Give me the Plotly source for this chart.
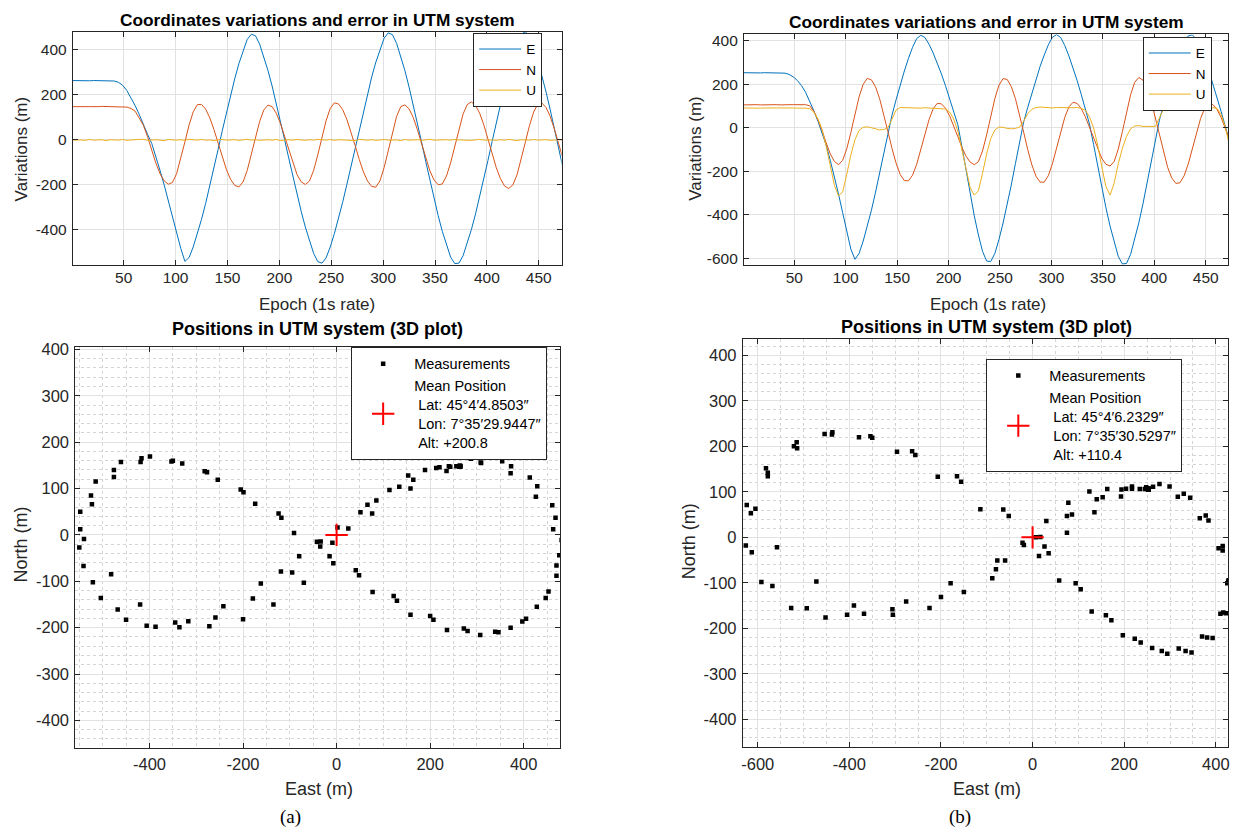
import plotly.graph_objects as go

W, H = 1238, 833

# ---------------- data (4 s sampling) ----------------
epochs = list(range(1, 474, 4))

# panel (a)
e_a = [264, 263, 264, 264, 263, 264, 264, 263, 264, 263,
       262, 256, 243, 220, 189, 153, 113, 66, 25, -15,
       -70, -135, -200, -272, -345, -420, -482, -540,
       -523, -476, -419, -353, -282, -205, -124, -42, 41, 122, 200, 272, 339, 397, 447, 470,
       463, 426, 372, 309, 240, 164, 85, 2, -80, -162, -242, -317, -387, -450, -504, -541,
       -548, -525, -476, -417, -350, -277, -199, -118, -35, 48, 129, 207, 280, 346, 405, 453, 476,
       468, 429, 373, 308, 235, 158, 76, -9, -95, -179, -259, -336, -406, -468, -521, -550,
       -548, -515, -461, -399, -330, -254, -174, -91, -7, 77, 158, 236, 307, 372, 428, 470,
       481, 461, 413, 354, 287, 213, 134, 51, -34, -119]
n_a = [148, 147, 149, 148, 148, 147, 148, 149, 148, 147, 148, 148, 147,
       146, 140, 128, 97, 65, 14, -46, -103, -150, -182, -197,
       -189, -150, -85, -9, 66, 125, 157,
       158, 137, 98, 46, -15, -76, -132, -175, -202,
       -209, -187, -136, -66, 12, 82, 133, 155,
       148, 119, 74, 16, -46, -105, -154, -186, -198,
       -183, -136, -67, 12, 85, 140, 165,
       160, 135, 92, 37, -25, -87, -142, -183, -207,
       -210, -181, -122, -44, 37, 105, 148,
       156, 138, 100, 46, -17, -81, -137, -178, -199,
       -196, -161, -102, -27, 50, 115, 157,
       169, 154, 119, 67, 4, -61, -123, -172, -205, -216,
       -200, -155, -88, -11, 64, 124, 159,
       164, 144, 104, 49, -14, -79]
u_a = [-1, 1, 0, -2, 2, -1, 0, 1, -3, 1,
       0, -1, 2, -2, 0, 1, -1, 3, -2, 0,
       1, -1, -3, 2, 0, -1, 1, -2, 3, 0,
       -1, 2, -1, 0, -3, 1, 2, -1, 0, 1,
       -2, 0, 3, -1, 1, -2, 0, 1, -1, 2,
       -3, 0, 1, -1, 2, 0, -2, 1, -1, 3,
       0, -1, 2, -2, 1, 0, -1, 1, -3, 2,
       0, -1, 1, -2, 0, 2, -1, 1, 0, -3,
       2, -1, 0, 1, -2, 1, 3, -1, 0, -2,
       1, -1, 2, 0, -1, 1, -2, 0, 3, -1,
       1, 0, -2, 1, -1, 2, 0, -3, 1, 0,
       -1, 2, -1, 0, 1, -2, 0, 1, -1]

# panel (b)
e_b = [253, 252, 253, 253, 252, 253, 253, 252, 253, 253,
       251, 245, 234, 217, 194, 163, 124, 78, 30, -22, -80, -150, -225, -305, -390, -472, -558,
       -605, -578, -521, -454, -379, -296, -207, -114, -19,
       58, 129, 197, 261, 319, 370, 410, 425,
       415, 384, 344, 299, 248, 193, 135, 75, 14,
       -88, -200, -306, -405, -493, -568, -613,
       -615, -578, -514, -438, -354, -263, -165, -64,
       26, 94, 160, 223, 282, 334, 381, 416, 428,
       415, 378, 330, 277, 217, 153, 86, 17,
       -77, -179, -276, -368, -452, -527, -592, -626,
       -624, -582, -515, -437, -350, -256, -156, -52,
       35, 105, 172, 236, 294, 347, 393, 422,
       427, 406, 365, 317, 263, 204, 140, 75, 7, -60]
n_b = [105, 106, 107, 106, 105, 106, 107, 106, 106, 105, 107, 106, 106, 107, 105,
       106, 101, 76, 36, -12, -70, -120, -155, -170,
       -150, -97, -22, 63, 142, 200, 227,
       220, 188, 133, 62, -17, -95, -163, -215, -243,
       -244, -218, -168, -101, -29, 37, 87, 112,
       110, 90, 55, 10, -41, -90, -131, -158, -170,
       -156, -107, -33, 53, 134, 196, 226,
       222, 189, 134, 61, -20, -101, -171, -223, -250,
       -250, -220, -165, -94, -19, 48, 96, 117,
       112, 88, 50, 1, -51, -101, -141, -168, -176,
       -155, -98, -18, 71, 152, 209, 231,
       219, 181, 122, 47, -35, -114, -182, -231, -256,
       -253, -221, -167, -97, -24, 42, 89, 111,
       107, 84, 47, 0, -51]
u_b = [91, 90, 92, 91, 90, 91, 92, 90, 91, 91, 92, 90, 91, 90, 91,
       90, 88, 72, 40, -8, -85, -180, -265, -314,
       -295, -215, -125, -55, -12, 2, 4,
       0, -6, -10, -8, 0, 40, 82, 93, 92,
       90, 91, 89, 90, 92, 91, 89, 90,
       89, 86, 72, 40, -15, -100, -195, -275, -310,
       -290, -210, -120, -50, -10, 3, 2,
       -3, -5, -3, 3, 30, 65, 85, 93, 95,
       93, 92, 91, 93, 92, 94, 93, 92,
       93, 89, 80, 50, 0, -80, -180, -270, -310,
       -255, -165, -95, -40, -5, 8, 10,
       6, 5, 4, 6, 45, 85, 93, 94, 92,
       93, 94, 92, 93, 94, 92, 93, 94,
       92, 90, 60, 5, -80]

mean_e = [0]
mean_n = [0]
mean_label_a = ["Mean Position", "Lat: 45°4′4.8503″", "Lon: 7°35′29.9447″", "Alt: +200.8"]
mean_label_b = ["Mean Position", "Lat: 45°4′6.2329″", "Lon: 7°35′30.5297″", "Alt: +110.4"]

top_x_ticks = [50, 100, 150, 200, 250, 300, 350, 400, 450]
top_a_y_ticks = [-400, -200, 0, 200, 400]
top_b_y_ticks = [-600, -400, -200, 0, 200, 400]
bot_a_x_ticks = [-400, -200, 0, 200, 400]
bot_b_x_ticks = [-600, -400, -200, 0, 200, 400]
bot_y_ticks = [-400, -300, -200, -100, 0, 100, 200, 300, 400]

# ---------------- style ----------------
C_E, C_N, C_U = "#0072BD", "#D95319", "#EDB120"
FONT = "Liberation Sans, Arial, Helvetica, sans-serif"
SERIF = "Liberation Serif, Times New Roman, serif"
INK = "#262626"


def px(x):
    return x / W


def py(y):
    return 1 - y / H


def lab(v):
    return str(v)  # hyphen-minus like the original


def axis(dom, rng, vals, anchor, size, minor=None, standoff=2):
    d = dict(domain=dom, range=rng, anchor=anchor, tickmode="array", tickvals=vals,
             ticktext=[lab(v) for v in vals], showline=True, linecolor=INK, linewidth=1,
             mirror="ticks", ticks="inside", ticklen=5, tickwidth=1, tickcolor=INK,
             showgrid=True, gridcolor="#e2e2e2", gridwidth=1, zeroline=False,
             ticklabelstandoff=standoff,
             tickfont=dict(family=FONT, size=size, color=INK), fixedrange=True)
    if minor:
        d["minor"] = dict(tickmode="linear", tick0=0, dtick=minor, showgrid=True,
                          gridcolor="#d4d4d4", griddash="dot", gridwidth=1, ticks="")
    return d


fig = go.Figure()

for name, ys, col in [("E", e_a, C_E), ("N", n_a, C_N), ("U", u_a, C_U)]:
    fig.add_trace(go.Scatter(x=epochs[:len(ys)], y=ys, mode="lines", name=name,
                             line=dict(color=col, width=1), xaxis="x", yaxis="y",
                             legend="legend"))
for name, ys, col in [("E", e_b, C_E), ("N", n_b, C_N), ("U", u_b, C_U)]:
    fig.add_trace(go.Scatter(x=epochs[:len(ys)], y=ys, mode="lines", name=name,
                             line=dict(color=col, width=1), xaxis="x2", yaxis="y2",
                             legend="legend2"))

for ex, ny, lbl, xa, ya, lg in [(e_a, n_a, mean_label_a, "x3", "y3", "legend3"),
                                (e_b, n_b, mean_label_b, "x4", "y4", "legend4")]:
    fig.add_trace(go.Scatter(x=ex, y=ny, mode="markers", name="Measurements",
                             marker=dict(symbol="square", size=4.5, color="black",
                                         line=dict(width=0)),
                             xaxis=xa, yaxis=ya, legend=lg))
    fig.add_trace(go.Scatter(x=mean_e, y=mean_n, mode="markers",
                             name="<br>".join([lbl[0]] + ["\u00a0" + s for s in lbl[1:]]),
                             marker=dict(symbol="cross-thin", size=16, color="red",
                                         line=dict(color="red", width=2)),
                             xaxis=xa, yaxis=ya, legend=lg))

leg = dict(bgcolor="white", bordercolor=INK, borderwidth=1, xanchor="left", yanchor="top",
           tracegroupgap=0, xref="paper", yref="paper")

fig.update_layout(
    width=W, height=H, margin=dict(l=0, r=0, t=0, b=0),
    paper_bgcolor="white", plot_bgcolor="white",
    font=dict(family=FONT, color=INK),
    xaxis=axis([px(71), px(561)], [1, 472], top_x_ticks, "y", 15.5, standoff=-2),
    yaxis=axis([py(260.7), py(25)], [-557, 481], top_a_y_ticks, "x", 15.5),
    xaxis2=axis([px(743.7), px(1229.3)], [1, 472], top_x_ticks, "y2", 15.5, standoff=-2),
    yaxis2=axis([py(260.7), py(27.7)], [-632, 429], top_b_y_ticks, "x2", 15.5),
    xaxis3=axis([px(73.5), px(559.7)], [-558.5, 478.3], bot_a_x_ticks, "y3", 16.5, minor=50, standoff=2),
    yaxis3=axis([py(747.7), py(343.7)], [-458.5, 404.3], bot_y_ticks, "x3", 16.5, minor=20),
    xaxis4=axis([px(742.6), px(1229.4)], [-632.6, 427.5], bot_b_x_ticks, "y4", 16.5, minor=50, standoff=2),
    yaxis4=axis([py(747), py(335.7)], [-460.3, 434.8], bot_y_ticks, "x4", 16.5, minor=20),
    legend=dict(x=px(472.3), y=py(26), itemwidth=42,
                font=dict(family=FONT, size=13.5, color="black"), **leg),
    legend2=dict(x=px(1143.5), y=py(30), itemwidth=42,
                 font=dict(family=FONT, size=13.5, color="black"), **leg),
    legend3=dict(x=px(350), y=py(343), itemwidth=52,
                 font=dict(family=FONT, size=14.5, color="black"), **leg),
    legend4=dict(x=px(986.7), y=py(355), itemwidth=52,
                 font=dict(family=FONT, size=14.5, color="black"), **leg),
)

ann = []


def text(x, y, s, size, bold=False, angle=0, family=FONT, color=INK):
    ann.append(dict(x=px(x), y=py(y), xref="paper", yref="paper", text=f"<b>{s}</b>" if bold else s,
                    showarrow=False, xanchor="center", yanchor="middle", textangle=angle,
                    font=dict(family=family, size=size, color=color)))


text(316, 13.5, "Coordinates variations and error in UTM system", 17.3, bold=True, color="black")
text(986.5, 15, "Coordinates variations and error in UTM system", 17.3, bold=True, color="black")
text(316.6, 325, "Positions in UTM system (3D plot)", 18, bold=True, color="black")
text(987, 323.3, "Positions in UTM system (3D plot)", 18, bold=True, color="black")
text(316, 300, "Epoch (1s rate)", 17)
text(988, 300, "Epoch (1s rate)", 17)
text(19.8, 143, "Variations (m)", 17, angle=-90)
text(694.9, 143, "Variations (m)", 17, angle=-90)
text(317.8, 790, "East (m)", 18)
text(987, 790, "East (m)", 18)
text(18.8, 543, "North (m)", 18, angle=-90)
text(688, 539, "North (m)", 18, angle=-90)
text(289.5, 818, "(a)", 19, family=SERIF, color="black")
text(960.6, 818, "(b)", 19, family=SERIF, color="black")
fig.update_layout(annotations=ann)

fig.write_html("out.html", config={"displayModeBar": False},
               post_script="document.body.style.margin='0px';")
